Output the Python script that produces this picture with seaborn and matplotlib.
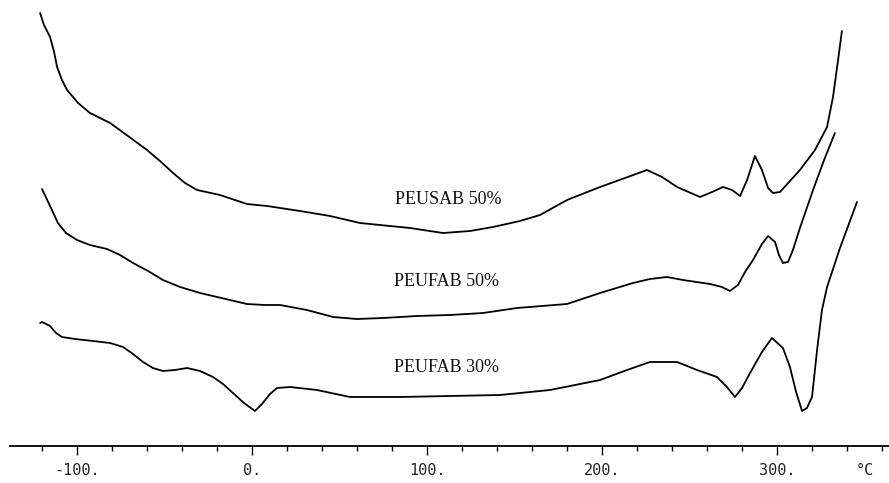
import numpy as np
import pandas as pd
import matplotlib
matplotlib.use("Agg")
import matplotlib.pyplot as plt
import seaborn as sns

# DSC traces (temperature in °C, heat flow in arbitrary units)
temp_sab50 = [-121.1, -118.9, -115.4, -113.1, -111.4, -108.6, -105.7, -99.4, -92.6, -81.1,
              -70.9, -60.0, -52.6, -45.1, -38.3, -31.4, -18.3, -2.9, 8.6, 27.4,
              44.6, 61.7, 90.3, 109.1, 124.6, 137.7, 153.1, 164.6, 180.0, 198.9,
              213.1, 225.7, 234.3, 242.9, 256.0, 262.9, 269.1, 274.3, 278.9, 282.9,
              287.4, 291.4, 294.9, 297.7, 301.7, 313.1, 321.7, 328.6, 332.0, 334.9, 337.1]
flow_sab50 = [43.3, 42.1, 40.9, 39.4, 37.9, 36.6, 35.6, 34.3, 33.3, 32.3,
              31.0, 29.6, 28.5, 27.3, 26.3, 25.6, 25.1, 24.2, 24.0, 23.5,
              23.0, 22.3, 21.8, 21.3, 21.5, 21.9, 22.5, 23.1, 24.6, 25.9,
              26.8, 27.6, 26.9, 25.9, 24.9, 25.4, 25.9, 25.6, 25.0, 26.6,
              29.0, 27.6, 25.8, 25.3, 25.4, 27.6, 29.6, 31.9, 34.9, 38.6, 41.5]

temp_fab50 = [-120.0, -115.4, -110.9, -106.3, -100.0, -92.6, -82.9, -75.4, -68.0, -59.4,
              -50.9, -41.1, -29.7, -12.6, -2.9, 7.4, 16.0, 31.4, 46.3, 60.0,
              74.9, 94.3, 113.1, 132.0, 151.4, 180.0, 198.9, 217.7, 227.4, 237.1,
              246.3, 261.7, 268.6, 273.1, 277.7, 281.7, 286.3, 291.4, 294.9, 298.9,
              301.1, 303.4, 306.3, 309.1, 313.1, 320.6, 326.9, 333.1]
flow_fab50 = [25.7, 24.0, 22.3, 21.3, 20.6, 20.1, 19.7, 19.1, 18.3, 17.5,
              16.6, 15.9, 15.3, 14.6, 14.2, 14.1, 14.1, 13.6, 12.9, 12.7,
              12.8, 13.0, 13.1, 13.3, 13.8, 14.2, 15.3, 16.3, 16.7, 16.9,
              16.6, 16.2, 15.9, 15.5, 16.1, 17.4, 18.6, 20.2, 21.0, 20.4,
              19.1, 18.3, 18.4, 19.6, 21.8, 25.6, 28.6, 31.3]

temp_fab30 = [-121.1, -120.0, -115.4, -112.0, -108.6, -101.1, -90.9, -81.1, -73.7, -68.0,
              -62.3, -56.6, -50.9, -44.0, -37.1, -29.7, -22.3, -16.6, -10.9, -4.6,
              1.7, 5.7, 10.3, 14.3, 21.7, 37.1, 56.0, 84.6, 113.1, 141.7,
              170.3, 198.9, 214.3, 227.4, 242.9, 254.3, 265.7, 271.4, 276.0, 280.0,
              284.6, 291.4, 297.1, 303.4, 307.4, 310.9, 314.3, 317.1, 320.0, 322.9,
              325.7, 328.6, 336.0, 345.7]
flow_fab30 = [12.3, 12.4, 12.0, 11.3, 10.9, 10.7, 10.5, 10.3, 9.9, 9.2,
              8.4, 7.8, 7.5, 7.6, 7.8, 7.5, 6.9, 6.2, 5.3, 4.3,
              3.5, 4.2, 5.2, 5.8, 5.9, 5.6, 4.9, 4.9, 5.0, 5.1,
              5.6, 6.6, 7.6, 8.4, 8.4, 7.6, 6.9, 5.9, 4.9, 5.8,
              7.3, 9.4, 10.8, 9.8, 7.9, 5.4, 3.5, 3.8, 4.9, 9.6,
              13.6, 15.9, 19.8, 24.4]

curve_labels = ["PEUSAB 50%", "PEUFAB 50%", "PEUFAB 30%"]
label_temp = [112.0, 111.4, 111.4]
label_flow = [24.6, 16.5, 7.8]

major_ticks = [-100, 0, 100, 200, 300, 350]
major_labels = ["-100.", "0.", "100.", "200.", "300.", "°C"]
minor_ticks = list(range(-120, 361, 20))

sns.set_theme(style="white")
plt.rcParams['font.family'] = ['DejaVu Sans Mono']

fig = plt.figure(figsize=(8.89, 4.83), dpi=100)
ax = fig.add_axes([10 / 889, 37 / 483, 879 / 889, 446 / 483])

for t, f in [(temp_sab50, flow_sab50), (temp_fab50, flow_fab50), (temp_fab30, flow_fab30)]:
    sns.lineplot(x=t, y=f, ax=ax, sort=False, estimator=None, color='black', linewidth=1.3)

for lab, t, f in zip(curve_labels, label_temp, label_flow):
    ax.text(t, f, lab, ha='center', va='center', fontsize=13,
            family=['Liberation Serif', 'DejaVu Serif'], color='#111111')

ax.set_xlim(-138.3, 364.0)
ax.set_ylim(0, 44.6)

for s in ['top', 'left', 'right']:
    ax.spines[s].set_visible(False)
ax.spines['bottom'].set_color('black')
ax.spines['bottom'].set_linewidth(1.3)

ax.set_yticks([])
ax.set_xticks(major_ticks)
ax.set_xticklabels(major_labels)
ax.set_xticks(minor_ticks, minor=True)
ax.tick_params(axis='x', which='major', direction='out', length=6.5, width=1.0,
               color='black', labelsize=11, pad=6, bottom=True)
ax.tick_params(axis='x', which='minor', direction='out', length=3.6, width=1.0,
               color='black', bottom=True)
# the unit label sits in the tick row but has no tick mark of its own
ax.xaxis.get_major_ticks()[-1].tick1line.set_visible(False)

fig.savefig('out.png', dpi=100)
